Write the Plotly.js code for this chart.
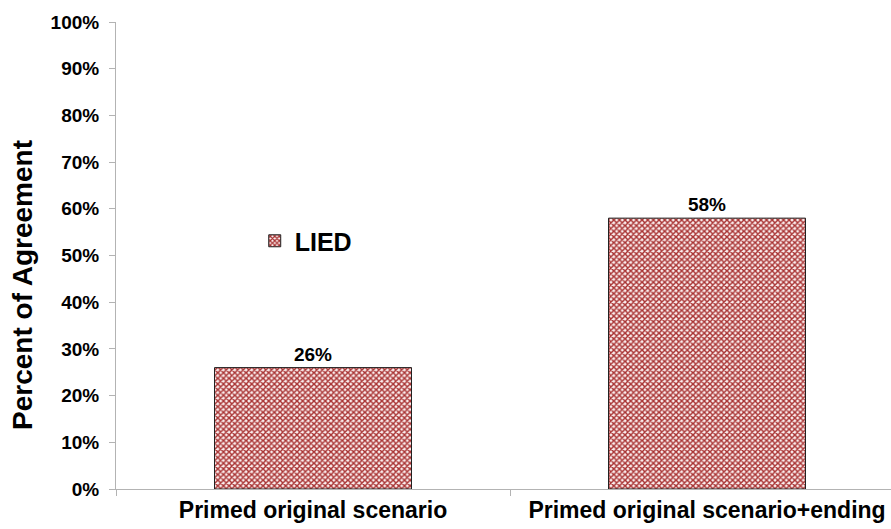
<!DOCTYPE html>
<html>
<head>
<meta charset="utf-8">
<script src="https://cdn.plot.ly/plotly-3.0.1.min.js"></script>
<style>html,body{margin:0;padding:0;background:#fff;}#chart{width:891px;height:529px;}</style>
</head>
<body>
<div id="chart"></div>
<script>
var categories = ["Primed original scenario", "Primed original scenario+ending"];
var seriesName = "LIED";
var values = [0.26, 0.58];
var valueLabels = ["26%", "58%"];
var yTickValues = [0, 0.1, 0.2, 0.3, 0.4, 0.5, 0.6, 0.7, 0.8, 0.9, 1.0];
var yTickLabels = ["0%", "10%", "20%", "30%", "40%", "50%", "60%", "70%", "80%", "90%", "100%"];
var yTitle = "Percent of Agreement";

var font = "Liberation Sans, Arial, sans-serif";

var trace = {
  type: "bar",
  name: seriesName,
  x: categories,
  y: values,
  width: 0.5,
  text: valueLabels,
  textposition: "outside",
  cliponaxis: false,
  textfont: {family: font, size: 19, color: "#000", weight: "bold"},
  marker: {
    color: "#ffffff",
    line: {color: "#222", width: 1},
    pattern: {shape: "x", fgcolor: "#a83232", bgcolor: "#fbeeee", size: 4, solidity: 0.6, fillmode: "replace"}
  },
  showlegend: true
};

var layout = {
  width: 891,
  height: 529,
  margin: {l: 116, r: 0, t: 22, b: 40},
  paper_bgcolor: "#fff",
  plot_bgcolor: "#fff",
  font: {family: font, color: "#000"},
  showlegend: true,
  legend: {
    x: 0.179, y: 0.531, xanchor: "left", yanchor: "middle",
    font: {family: font, size: 25, color: "#000", weight: "bold"},
    bgcolor: "rgba(0,0,0,0)", itemwidth: 30
  },
  xaxis: {
    type: "category",
    range: [-0.5, 1.467],
    tickfont: {family: font, size: 23, color: "#000", weight: "bold"},
    showline: true, linecolor: "#b3b3b3", linewidth: 1,
    ticks: "outside", tickson: "boundaries", ticklen: 6, tickcolor: "#b3b3b3",
    showgrid: false, zeroline: false, fixedrange: true, automargin: false
  },
  yaxis: {
    range: [0, 1],
    tickmode: "array",
    tickvals: yTickValues,
    ticktext: yTickLabels,
    tickfont: {family: font, size: 19, color: "#000", weight: "bold"},
    ticklabelstandoff: 6,
    showline: true, linecolor: "#b3b3b3", linewidth: 1,
    ticks: "outside", ticklen: 6, tickcolor: "#b3b3b3",
    showgrid: false, zeroline: false, automargin: false,
    fixedrange: true
  },
  annotations: [{
    text: yTitle,
    xref: "paper", yref: "paper",
    x: -0.12, y: 0.437,
    xanchor: "center", yanchor: "middle",
    textangle: -90, showarrow: false,
    font: {family: font, size: 28, color: "#000", weight: "bold"}
  }]
};

Plotly.newPlot("chart", [trace], layout, {displayModeBar: false, staticPlot: true});
</script>
</body>
</html>
